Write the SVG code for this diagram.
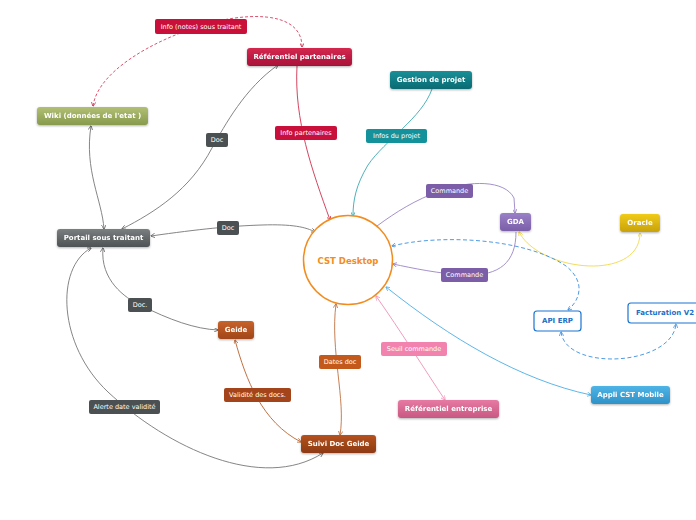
<svg xmlns="http://www.w3.org/2000/svg" width="696" height="520" viewBox="0 0 696 520">
<style>
.n text{font-family:"DejaVu Sans",Verdana,sans-serif;font-weight:bold;font-size:7px;fill:#fff;text-anchor:middle;dominant-baseline:central}
.l text{font-family:"DejaVu Sans",Verdana,sans-serif;font-size:6.5px;fill:#fff;text-anchor:middle;dominant-baseline:central}
.c path{fill:none;stroke-width:0.9}
.sh{filter:url(#ds)}
</style>
<defs>
<filter id="ds" x="-10%" y="-20%" width="120%" height="150%"><feDropShadow dx="0" dy="1" stdDeviation="0.8" flood-color="#000" flood-opacity="0.3"/></filter>
<linearGradient id="gRed" x1="0" y1="0" x2="0" y2="1"><stop offset="0" stop-color="#d4284f"/><stop offset="1" stop-color="#a8103a"/></linearGradient>
<linearGradient id="gOl" x1="0" y1="0" x2="0" y2="1"><stop offset="0" stop-color="#b0bf74"/><stop offset="1" stop-color="#889a4c"/></linearGradient>
<linearGradient id="gTeal" x1="0" y1="0" x2="0" y2="1"><stop offset="0" stop-color="#1a9098"/><stop offset="1" stop-color="#0a6a72"/></linearGradient>
<linearGradient id="gGray" x1="0" y1="0" x2="0" y2="1"><stop offset="0" stop-color="#7a7e80"/><stop offset="1" stop-color="#4e5254"/></linearGradient>
<linearGradient id="gPur" x1="0" y1="0" x2="0" y2="1"><stop offset="0" stop-color="#9a80c6"/><stop offset="1" stop-color="#7a5fa8"/></linearGradient>
<linearGradient id="gYel" x1="0" y1="0" x2="0" y2="1"><stop offset="0" stop-color="#f0cb18"/><stop offset="1" stop-color="#c9a20a"/></linearGradient>
<linearGradient id="gBr" x1="0" y1="0" x2="0" y2="1"><stop offset="0" stop-color="#c8622a"/><stop offset="1" stop-color="#a0461a"/></linearGradient>
<linearGradient id="gBr2" x1="0" y1="0" x2="0" y2="1"><stop offset="0" stop-color="#b5521e"/><stop offset="1" stop-color="#8c3a12"/></linearGradient>
<linearGradient id="gPink" x1="0" y1="0" x2="0" y2="1"><stop offset="0" stop-color="#e67aa2"/><stop offset="1" stop-color="#c75882"/></linearGradient>
<linearGradient id="gBlue" x1="0" y1="0" x2="0" y2="1"><stop offset="0" stop-color="#4fb4e6"/><stop offset="1" stop-color="#2e92c8"/></linearGradient>
<marker id="aRed" viewBox="0 0 10 10" refX="9" refY="5" markerWidth="5" markerHeight="5" orient="auto-start-reverse"><path d="M0,0L10,5L0,10" fill="none" stroke="#c8203f" stroke-width="1.6"/></marker>
<marker id="aGray" viewBox="0 0 10 10" refX="9" refY="5" markerWidth="5" markerHeight="5" orient="auto-start-reverse"><path d="M0,0L10,5L0,10" fill="none" stroke="#555" stroke-width="1.6"/></marker>
<marker id="aTeal" viewBox="0 0 10 10" refX="9" refY="5" markerWidth="5" markerHeight="5" orient="auto-start-reverse"><path d="M0,0L10,5L0,10" fill="none" stroke="#1a9aa2" stroke-width="1.6"/></marker>
<marker id="aPur" viewBox="0 0 10 10" refX="9" refY="5" markerWidth="5" markerHeight="5" orient="auto-start-reverse"><path d="M0,0L10,5L0,10" fill="none" stroke="#8a70b8" stroke-width="1.6"/></marker>
<marker id="aYel" viewBox="0 0 10 10" refX="9" refY="5" markerWidth="5" markerHeight="5" orient="auto-start-reverse"><path d="M0,0L10,5L0,10" fill="none" stroke="#f0cf3a" stroke-width="1.6"/></marker>
<marker id="aBlue" viewBox="0 0 10 10" refX="9" refY="5" markerWidth="5" markerHeight="5" orient="auto-start-reverse"><path d="M0,0L10,5L0,10" fill="none" stroke="#3a8ee0" stroke-width="1.6"/></marker>
<marker id="aLB" viewBox="0 0 10 10" refX="9" refY="5" markerWidth="5" markerHeight="5" orient="auto-start-reverse"><path d="M0,0L10,5L0,10" fill="none" stroke="#4aaee8" stroke-width="1.6"/></marker>
<marker id="aPink" viewBox="0 0 10 10" refX="9" refY="5" markerWidth="5" markerHeight="5" orient="auto-start-reverse"><path d="M0,0L10,5L0,10" fill="none" stroke="#f090b8" stroke-width="1.6"/></marker>
<marker id="aBr" viewBox="0 0 10 10" refX="9" refY="5" markerWidth="5" markerHeight="5" orient="auto-start-reverse"><path d="M0,0L10,5L0,10" fill="none" stroke="#b8622e" stroke-width="1.6"/></marker>
</defs>
<rect width="696" height="520" fill="#fff"/>
<g id="connectors" class="c">
<path d="M93,106 C98,72 150,42 200,26 C240,13 302,8 302,47" stroke="#d8405e" stroke-dasharray="3,2" marker-start="url(#aRed)" marker-end="url(#aRed)"/>
<path d="M278,65 C245,88 225,125 212,148 C190,190 155,212 122,229" stroke="#777" marker-start="url(#aGray)" marker-end="url(#aGray)"/>
<path d="M91,126 C84,170 102,200 104,229" stroke="#777" marker-start="url(#aGray)" marker-end="url(#aGray)"/>
<path d="M151,236 C200,229 230,226 262,225 C292,224 306,227 315,232" stroke="#777" marker-start="url(#aGray)" marker-end="url(#aGray)"/>
<path d="M297,66 C294,120 312,170 330,220" stroke="#d0304e" marker-end="url(#aRed)"/>
<path d="M432,89 C422,118 385,140 368,165 C356,185 353,200 353,216" stroke="#3aa8b0" marker-end="url(#aTeal)"/>
<path d="M377,226 C396,212 415,200 440,191 C470,180 505,180 514,198 L515,213" stroke="#9a84c6" marker-end="url(#aPur)"/>
<path d="M516,232 C516,262 500,276 466,275 C440,274 412,268 393,264" stroke="#9a84c6" marker-end="url(#aPur)"/>
<path d="M519,232 C540,272 640,282 640,233" stroke="#f2d84a" marker-start="url(#aYel)" marker-end="url(#aYel)"/>
<path d="M392,246 C440,234 525,238 566,266 C586,282 580,300 568,310" stroke="#3a8ee0" stroke-dasharray="4,2.5" marker-start="url(#aBlue)" marker-end="url(#aBlue)"/>
<path d="M561,332 C566,372 672,366 676,324" stroke="#3a8ee0" stroke-dasharray="4,2.5" marker-start="url(#aBlue)" marker-end="url(#aBlue)"/>
<path d="M386,287 C450,338 520,380 591,395" stroke="#4aaee8" marker-start="url(#aLB)" marker-end="url(#aLB)"/>
<path d="M376,296 C400,330 425,370 445,400" stroke="#f090b8" marker-start="url(#aPink)" marker-end="url(#aPink)"/>
<path d="M336,304 C330,350 346,400 340,435" stroke="#c07040" marker-start="url(#aBr)" marker-end="url(#aBr)"/>
<path d="M235,340 C246,380 262,422 301,442" stroke="#b8622e" marker-start="url(#aBr)" marker-end="url(#aBr)"/>
<path d="M103,248 C100,280 125,298 140,305 C170,320 195,329 218,330" stroke="#777" marker-start="url(#aGray)" marker-end="url(#aGray)"/>
<path d="M91,248 C55,268 58,345 108,392 C168,448 262,492 323,453" stroke="#777" marker-start="url(#aGray)" marker-end="url(#aGray)"/>
</g>
<g id="cst"><circle cx="348" cy="260" r="44.5" fill="#fff" stroke="#f28c1e" stroke-width="1.5"/><text x="348" y="261" font-family="DejaVu Sans,Verdana,sans-serif" font-weight="bold" font-size="8.5" fill="#f28c1e" text-anchor="middle" dominant-baseline="central">CST Desktop</text></g>
<g id="ref-part" class="n sh"><rect x="247" y="48" width="105" height="18" rx="3" fill="url(#gRed)"/><text x="299.5" y="57">Référentiel partenaires</text></g>
<g id="wiki" class="n sh"><rect x="37" y="107" width="111" height="18" rx="3" fill="url(#gOl)"/><text x="92.5" y="116">Wiki (données de l'etat )</text></g>
<g id="gestion" class="n sh"><rect x="390" y="71" width="82" height="18" rx="3" fill="url(#gTeal)"/><text x="431" y="80">Gestion de projet</text></g>
<g id="portail" class="n sh"><rect x="57" y="229" width="93" height="18" rx="3" fill="url(#gGray)"/><text x="103.5" y="238">Portail sous traitant</text></g>
<g id="gda" class="n sh"><rect x="500" y="213" width="31" height="18" rx="3" fill="url(#gPur)"/><text x="515.5" y="222">GDA</text></g>
<g id="oracle" class="n sh"><rect x="620" y="214" width="40" height="18" rx="3" fill="url(#gYel)"/><text x="640" y="223">Oracle</text></g>
<g id="apierp" class="n"><rect x="534" y="311" width="47" height="20" rx="3" fill="#fff" stroke="#1a75d2" stroke-width="1.2"/><text x="557.5" y="321" style="fill:#1a6fc8">API ERP</text></g>
<g id="factv2" class="n"><rect x="628" y="303" width="75" height="20" rx="3" fill="#fff" stroke="#1a75d2" stroke-width="1.2"/><text x="665" y="313" style="fill:#1a6fc8">Facturation V2</text></g>
<g id="geide" class="n sh"><rect x="218" y="321" width="36" height="18" rx="3" fill="url(#gBr)"/><text x="236" y="330">Geide</text></g>
<g id="ref-ent" class="n sh"><rect x="398" y="400" width="101" height="18" rx="3" fill="url(#gPink)"/><text x="448.5" y="409">Référentiel entreprise</text></g>
<g id="appli" class="n sh"><rect x="591" y="386" width="79" height="18" rx="3" fill="url(#gBlue)"/><text x="630.5" y="395">Appli CST Mobile</text></g>
<g id="suivi" class="n sh"><rect x="301" y="435" width="75" height="18" rx="3" fill="url(#gBr2)"/><text x="338.5" y="444">Suivi Doc Geide</text></g>
<g id="lbl-info-notes" class="l"><rect x="155" y="19" width="92" height="15" rx="2" fill="#c8103a"/><text x="201" y="26.5">Info (notes) sous traitant</text></g>
<g id="lbl-infos-projet" class="l"><rect x="366" y="129" width="61" height="14" rx="2" fill="#13929b"/><text x="396.5" y="136">Infos du projet</text></g>
<g id="lbl-info-part" class="l"><rect x="275" y="126" width="62" height="14" rx="2" fill="#c8103a"/><text x="306" y="133">Info partenaires</text></g>
<g id="lbl-doc1" class="l"><rect x="206" y="133" width="22" height="14" rx="2" fill="#4b5052"/><text x="217" y="140">Doc</text></g>
<g id="lbl-doc2" class="l"><rect x="217" y="221" width="22" height="14" rx="2" fill="#4b5052"/><text x="228" y="228">Doc</text></g>
<g id="lbl-cmd1" class="l"><rect x="426" y="184" width="47" height="14" rx="2" fill="#7b5ea7"/><text x="449.5" y="191">Commande</text></g>
<g id="lbl-cmd2" class="l"><rect x="441" y="268" width="47" height="14" rx="2" fill="#7b5ea7"/><text x="464.5" y="275">Commande</text></g>
<g id="lbl-doc3" class="l"><rect x="128" y="298" width="24" height="14" rx="2" fill="#4b5052"/><text x="140" y="305">Doc.</text></g>
<g id="lbl-seuil" class="l"><rect x="381" y="342" width="66" height="14" rx="2" fill="#f283ae"/><text x="414" y="349">Seuil commande</text></g>
<g id="lbl-dates" class="l"><rect x="319" y="355" width="42" height="14" rx="2" fill="#c4591c"/><text x="340" y="362">Dates doc</text></g>
<g id="lbl-validite" class="l"><rect x="224" y="388" width="67" height="14" rx="2" fill="#a3441a"/><text x="257.5" y="395">Validité des docs.</text></g>
<g id="lbl-alerte" class="l"><rect x="89" y="400" width="71" height="14" rx="2" fill="#4b5052"/><text x="124.5" y="407">Alerte date validité</text></g>
</svg>
